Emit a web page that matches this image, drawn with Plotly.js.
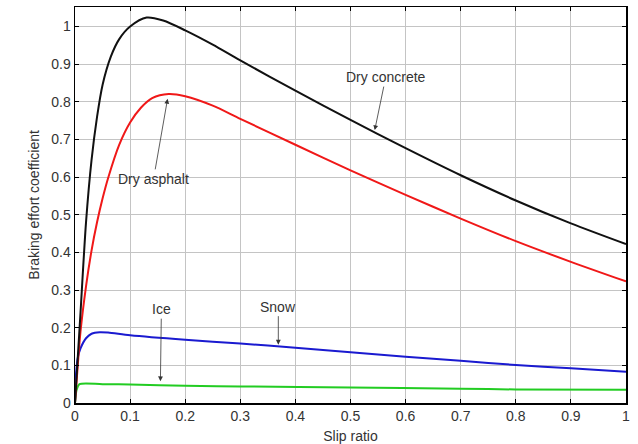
<!DOCTYPE html>
<html>
<head>
<meta charset="utf-8">
<script src="https://cdn.plot.ly/plotly-3.0.1.min.js"></script>
<style>html,body{margin:0;padding:0;background:#fff;}#chart{width:638px;height:444px;}</style>
</head>
<body>
<div id="chart"></div>
<script>
// Dry concrete
const concreteX = [0, 0.005, 0.01, 0.02, 0.03, 0.04, 0.05, 0.065, 0.08, 0.1, 0.13, 0.16, 0.2, 0.25, 0.3, 0.4, 0.5, 0.6, 0.7, 0.8, 0.9, 1.0];
const concreteY = [0, 0.12, 0.24, 0.48, 0.645, 0.76, 0.845, 0.92, 0.966, 1.0, 1.024, 1.016, 0.99, 0.952, 0.91, 0.83, 0.752, 0.677, 0.605, 0.538, 0.477, 0.422];
// Dry asphalt
const asphaltX = [0, 0.005, 0.01, 0.02, 0.03, 0.04, 0.05, 0.06, 0.08, 0.1, 0.12, 0.14, 0.17, 0.2, 0.25, 0.3, 0.4, 0.5, 0.6, 0.7, 0.8, 0.9, 1.0];
const asphaltY = [0, 0.1, 0.19, 0.31, 0.405, 0.48, 0.543, 0.597, 0.685, 0.745, 0.785, 0.81, 0.821, 0.815, 0.79, 0.755, 0.686, 0.618, 0.553, 0.49, 0.43, 0.375, 0.323];
// Snow
const snowX = [0, 0.002, 0.005, 0.01, 0.02, 0.03, 0.045, 0.06, 0.1, 0.2, 0.3, 0.4, 0.5, 0.6, 0.7, 0.8, 0.9, 1.0];
const snowY = [0, 0.08, 0.12, 0.145, 0.172, 0.184, 0.188, 0.187, 0.18, 0.168, 0.158, 0.147, 0.135, 0.123, 0.112, 0.101, 0.092, 0.083];
// Ice
const iceX = [0, 0.003, 0.008, 0.05, 0.1, 0.2, 0.3, 0.5, 0.7, 0.8, 1.0];
const iceY = [0, 0.035, 0.05, 0.05, 0.049, 0.046, 0.044, 0.041, 0.038, 0.036, 0.035];

const tickVals = [0, 0.1, 0.2, 0.3, 0.4, 0.5, 0.6, 0.7, 0.8, 0.9, 1];
const tickText = ["0", "0.1", "0.2", "0.3", "0.4", "0.5", "0.6", "0.7", "0.8", "0.9", "1"];

const labels = [
  {text: "Dry concrete", x: 0.544, y: 0.725, ax: 11, ay: -53},
  {text: "Dry asphalt", x: 0.168, y: 0.808, ax: -14, ay: 80},
  {text: "Ice", x: 0.155, y: 0.058, ax: 1, ay: -72},
  {text: "Snow", x: 0.369, y: 0.155, ax: 0, ay: -38}
];

const font = "Liberation Sans, Arial, sans-serif";
function tr(x, y, c) {
  return {x: x, y: y, mode: "lines", type: "scatter", line: {color: c, width: 2, shape: "spline", smoothing: 0.8}, hoverinfo: "skip", showlegend: false};
}
const data = [
  tr(iceX, iceY, "#22cc22"),
  tr(snowX, snowY, "#1a1ad0"),
  tr(asphaltX, asphaltY, "#f01818"),
  tr(concreteX, concreteY, "#111111")
];

const axisCommon = {
  showline: true, mirror: "ticks", linecolor: "#000", linewidth: 1.5,
  ticks: "inside", ticklen: 4, tickcolor: "#000", tickwidth: 1,
  showgrid: true, gridcolor: "#c4c4c4", gridwidth: 1,
  zeroline: false, tickvals: tickVals, ticktext: tickText,
  tickfont: {family: font, size: 14, color: "#333"}
};

const layout = {
  width: 638, height: 444,
  margin: {l: 75, r: 12, t: 7, b: 41},
  paper_bgcolor: "#fff", plot_bgcolor: "#fff",
  xaxis: Object.assign({}, axisCommon, {range: [0, 1],
    title: {text: "Slip ratio", font: {family: font, size: 14, color: "#333"}, standoff: 8}}),
  yaxis: Object.assign({}, axisCommon, {range: [0, 1.052],
    title: {text: "Braking effort coefficient", font: {family: font, size: 14, color: "#333"}, standoff: 8}}),
  annotations: labels.map(l => ({
    x: l.x, y: l.y, xref: "x", yref: "y", ax: l.ax, ay: l.ay, axref: "pixel", ayref: "pixel",
    text: l.text, showarrow: true, arrowhead: 2, arrowsize: 1.2, arrowwidth: 0.8, arrowcolor: "#333",
    font: {family: font, size: 14, color: "#333"}, standoff: 0
  }))
};

Plotly.newPlot("chart", data, layout, {displayModeBar: false, staticPlot: true});
</script>
</body>
</html>
